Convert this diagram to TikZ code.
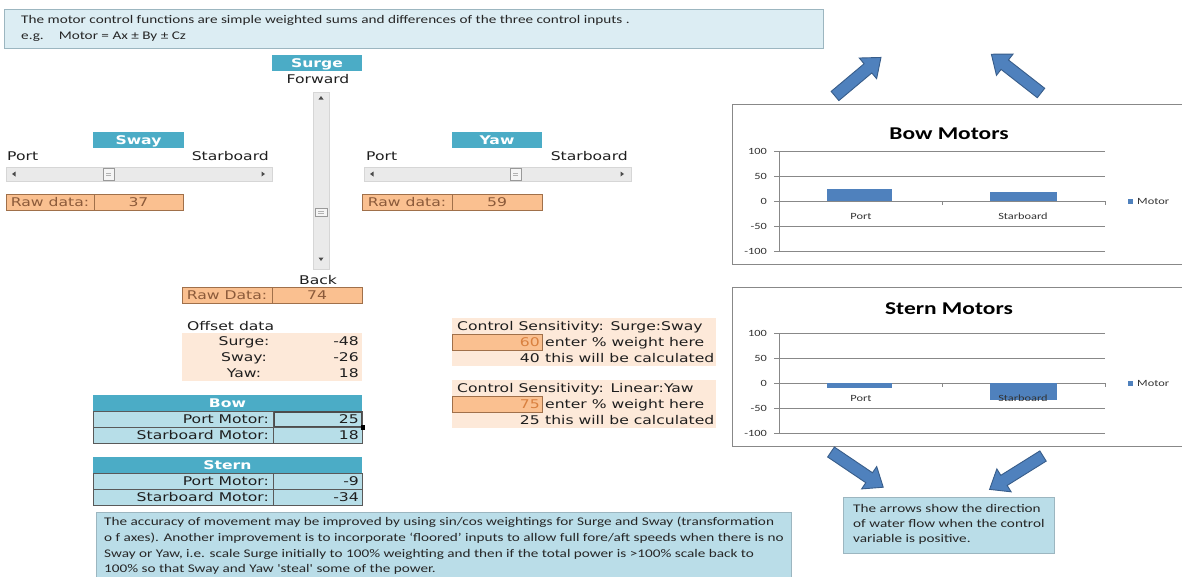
\documentclass[tikz,border=0pt]{standalone}
\usepackage{fontspec}
\setmainfont{DejaVu Sans}[FakeStretch=1.3]
\newfontfamily\calfont{Carlito}[FakeStretch=1.3]
\definecolor{hdrblue}{HTML}{4BACC6}
\definecolor{tblue}{HTML}{B7DEE8}
\definecolor{orangecell}{HTML}{FAC090}
\definecolor{peach}{HTML}{FDE9D9}
\definecolor{notetop}{HTML}{DCEDF3}
\definecolor{notebot}{HTML}{BADDE8}
\definecolor{noteedge}{HTML}{9CB6C0}
\definecolor{barblue}{HTML}{4F81BD}
\definecolor{baredge}{HTML}{385D8A}
\definecolor{gridgray}{HTML}{888888}
\definecolor{rawtext}{HTML}{8B5A3A}
\definecolor{inputtext}{HTML}{D9803F}
\definecolor{rawedge}{HTML}{A0704A}
\definecolor{sbfill}{HTML}{EAEAEA}
\definecolor{sbedge}{HTML}{D6D6D6}
\definecolor{celltext}{HTML}{1E1E1E}
\newcommand\blockarrow[3]{%
  \begin{scope}[shift={#1}, rotate=#2]
    \filldraw[barrowstyle] (0,-6) -- (#3-17,-6) -- (#3-17,-13.5) -- (#3,0) -- (#3-17,13.5) -- (#3-17,6) -- (0,6) -- cycle;
  \end{scope}}
\begin{document}
\begin{tikzpicture}[x=1pt,y=-1pt,
  xl/.style={font=\fontsize{12}{14}\selectfont, inner sep=0, text=celltext},
  hdrtxt/.style={font=\fontsize{12}{14}\selectfont\bfseries, inner sep=0, text=white},
  rawtxt/.style={xl, text=rawtext},
  notetxt/.style={font=\calfont\fontsize{11.7}{14}\selectfont, inner sep=0, anchor=base west, text=black!85},
  charttxt/.style={font=\calfont\fontsize{9.5}{11}\selectfont, inner sep=0, text=black!80},
  titletxt/.style={font=\calfont\fontsize{18}{21}\selectfont\bfseries, inner sep=0},
  hdrbox/.style={fill=hdrblue},
  rawbox/.style={fill=orangecell, draw=rawedge, line width=0.8},
  tcell/.style={fill=tblue, draw=black!65, line width=0.8},
  sbar/.style={fill=sbfill, draw=sbedge, line width=0.6},
  thumb/.style={fill=black!4, draw=black!40, line width=0.6},
  sbarrow/.style={fill=black!70},
  grid/.style={draw=gridgray, line width=0.8},
  barrowstyle/.style={fill=barblue, draw=baredge, line width=0.9},
  chartbox/.style={draw=gridgray, line width=0.9, fill=white},
  ]
\useasboundingbox (0,0) rectangle (1182,576);
\fill[white] (0,0) rectangle (1182,576);

% ---------- top note ----------
\filldraw[fill=notetop, draw=noteedge, line width=0.8] (4,9) rectangle (823,48);
\node[notetxt] (topnote1) at (21,23) {The motor control functions are simple weighted sums and differences of the three control inputs .};
\node[notetxt] (topnote2) at (21,39) {e.g.\hspace{15pt}Motor = Ax ± By ± Cz};

% ---------- Surge ----------
\fill[hdrbox] (272,55) rectangle (362,71);
\node[hdrtxt, anchor=base] (surgehdr) at (317,67.4) {Surge};
\node[xl, anchor=base] (forward) at (318,83.4) {Forward};
\filldraw[sbar] (313,92) rectangle (329,269);
\fill[sbarrow] (321,96) -- (318.5,99.5) -- (323.5,99.5) -- cycle;
\fill[sbarrow] (321,261) -- (318.5,257.5) -- (323.5,257.5) -- cycle;
\filldraw[thumb] (315,208) rectangle (327,216);
\draw[black!30, line width=0.5] (318,211) -- (324,211) (318,213) -- (324,213);
\node[xl, anchor=base] (back) at (318,284.4) {Back};
\filldraw[rawbox] (182,287) rectangle (362,303);
\draw[rawedge, line width=0.8] (272,287) -- (272,303);
\node[rawtxt, anchor=base] (surgeraw) at (227,299.4) {Raw Data:};
\node[rawtxt, anchor=base] (surgeval) at (317,299.4) {74};

% ---------- Sway ----------
\fill[hdrbox] (93,132) rectangle (184,148);
\node[hdrtxt, anchor=base] (swayhdr) at (138.5,144.4) {Sway};
\node[xl, anchor=base west] (swayport) at (7,160.4) {Port};
\node[xl, anchor=base east] (swaystar) at (269,160.4) {Starboard};
\filldraw[sbar] (6,167) rectangle (272,181);
\fill[sbarrow] (12,174) -- (15.5,171.5) -- (15.5,176.5) -- cycle;
\fill[sbarrow] (265,174) -- (261.5,171.5) -- (261.5,176.5) -- cycle;
\filldraw[thumb] (103,168.5) rectangle (114,180);
\draw[black!30, line width=0.5] (106,173) -- (111,173) (106,175.5) -- (111,175.5);
\filldraw[rawbox] (6,194) rectangle (183,210);
\draw[rawedge, line width=0.8] (94,194) -- (94,210);
\node[rawtxt, anchor=base] (swayraw) at (50,206.4) {Raw data:};
\node[rawtxt, anchor=base] (swayval) at (138.5,206.4) {37};

% ---------- Yaw ----------
\fill[hdrbox] (452,132) rectangle (542,148);
\node[hdrtxt, anchor=base] (yawhdr) at (497,144.4) {Yaw};
\node[xl, anchor=base west] (yawport) at (366,160.4) {Port};
\node[xl, anchor=base east] (yawstar) at (628,160.4) {Starboard};
\filldraw[sbar] (364,167) rectangle (631,181);
\fill[sbarrow] (370,174) -- (373.5,171.5) -- (373.5,176.5) -- cycle;
\fill[sbarrow] (624,174) -- (620.5,171.5) -- (620.5,176.5) -- cycle;
\filldraw[thumb] (510,168.5) rectangle (521,180);
\draw[black!30, line width=0.5] (513,173) -- (518,173) (513,175.5) -- (518,175.5);
\filldraw[rawbox] (362,194) rectangle (542,210);
\draw[rawedge, line width=0.8] (452,194) -- (452,210);
\node[rawtxt, anchor=base] (yawraw) at (407,206.4) {Raw data:};
\node[rawtxt, anchor=base] (yawval) at (497,206.4) {59};

% ---------- Offset data ----------
\node[xl, anchor=base west] (offlabel) at (187,330.4) {Offset data};
\fill[peach] (182,333) rectangle (362,381);
\node[xl, anchor=base] (offsurge) at (244,345.4) {Surge:};
\node[xl, anchor=base] (offsway) at (244,361.4) {Sway:};
\node[xl, anchor=base] (offyaw) at (244,377.4) {Yaw:};
\node[xl, anchor=base east] (offsurgev) at (359,345.4) {-48};
\node[xl, anchor=base east] (offswayv) at (359,361.4) {-26};
\node[xl, anchor=base east] (offyawv) at (359,377.4) {18};

% ---------- Bow table ----------
\fill[hdrbox] (93,395) rectangle (362,411);
\node[hdrtxt, anchor=base] (bowhdr) at (227.5,407.4) {Bow};
\filldraw[tcell] (93,411) rectangle (273,427);
\filldraw[tcell] (273,411) rectangle (362,427);
\filldraw[tcell] (93,427) rectangle (273,443);
\filldraw[tcell] (273,427) rectangle (362,443);
\draw[black!70, line width=1.8] (274.5,412) rectangle (361.5,426.5);
\fill[black] (360.5,425) rectangle (365,429.5);
\node[xl, anchor=base east] (bowpl) at (269,423.4) {Port Motor:};
\node[xl, anchor=base east] (bowpv) at (359,423.4) {25};
\node[xl, anchor=base east] (bowsl) at (269,439.4) {Starboard Motor:};
\node[xl, anchor=base east] (bowsv) at (359,439.4) {18};

% ---------- Stern table ----------
\fill[hdrbox] (93,457) rectangle (362,473);
\node[hdrtxt, anchor=base] (sternhdr) at (227.5,469.4) {Stern};
\filldraw[tcell] (93,473) rectangle (273,489);
\filldraw[tcell] (273,473) rectangle (362,489);
\filldraw[tcell] (93,489) rectangle (273,505);
\filldraw[tcell] (273,489) rectangle (362,505);
\node[xl, anchor=base east] (sternpl) at (269,485.4) {Port Motor:};
\node[xl, anchor=base east] (sternpv) at (359,485.4) {-9};
\node[xl, anchor=base east] (sternsl) at (269,501.4) {Starboard Motor:};
\node[xl, anchor=base east] (sternsv) at (359,501.4) {-34};

% ---------- Control sensitivity ----------
\fill[peach] (452,318) rectangle (716,366);
\filldraw[rawbox] (452,334) rectangle (542,350);
\node[xl, anchor=base west] (cs1) at (457,330.4) {Control Sensitivity: Surge:Sway};
\node[xl, anchor=base east, text=inputtext] (cs1v) at (540,346.4) {60};
\node[xl, anchor=base west] (cs1t) at (545,346.4) {enter \% weight here};
\node[xl, anchor=base east] (cs1c) at (540,362.4) {40};
\node[xl, anchor=base west] (cs1ct) at (545,362.4) {this will be calculated};

\fill[peach] (452,380) rectangle (716,428);
\filldraw[rawbox] (452,396) rectangle (542,412);
\node[xl, anchor=base west] (cs2) at (457,392.4) {Control Sensitivity: Linear:Yaw};
\node[xl, anchor=base east, text=inputtext] (cs2v) at (540,408.4) {75};
\node[xl, anchor=base west] (cs2t) at (545,408.4) {enter \% weight here};
\node[xl, anchor=base east] (cs2c) at (540,424.4) {25};
\node[xl, anchor=base west] (cs2ct) at (545,424.4) {this will be calculated};

% ---------- Bow Motors chart ----------
\filldraw[chartbox] (732,104) rectangle (1190,264);
\node[titletxt, anchor=base] (bowtitle) at (949,139) {Bow Motors};
\foreach \yy/\lab in {151/100,176/50,201/0,226/-50,251/-100}{
  \draw[grid] (774,\yy) -- (1105,\yy);
  \node[charttxt, anchor=base east] at (767,\yy+3) {\lab};
}
\draw[grid] (779,151) -- (779,251);
\draw[grid] (942,201) -- (942,205) (1105,201) -- (1105,205);
\fill[barblue] (827,188.5) rectangle (892,201);
\fill[barblue] (990,192) rectangle (1057,201);
\node[charttxt, anchor=base] (bowport) at (861,219) {Port};
\node[charttxt, anchor=base] (bowstar) at (1023,219) {Starboard};
\fill[barblue] (1128,198.5) rectangle (1133,203.5);
\node[charttxt, anchor=base west] (bowleg) at (1137,204) {Motor};

% ---------- Stern Motors chart ----------
\filldraw[chartbox] (732,287) rectangle (1190,446);
\node[titletxt, anchor=base] (sterntitle) at (949,314) {Stern Motors};
\foreach \yy/\lab in {333/100,358/50,383/0,408/-50,433/-100}{
  \draw[grid] (774,\yy) -- (1105,\yy);
  \node[charttxt, anchor=base east] at (767,\yy+3) {\lab};
}
\draw[grid] (779,333) -- (779,433);
\draw[grid] (942,383) -- (942,387) (1105,383) -- (1105,387);
\fill[barblue] (827,383) rectangle (892,387.5);
\fill[barblue] (990,383) rectangle (1057,400);
\node[charttxt, anchor=base] (sternport) at (861,401) {Port};
\node[charttxt, anchor=base] (sternstar) at (1023,401) {Starboard};
\fill[barblue] (1128,380.5) rectangle (1133,385.5);
\node[charttxt, anchor=base west] (sternleg) at (1137,386) {Motor};

% ---------- block arrows ----------
\blockarrow{(835,96)}{40}{60}
\blockarrow{(1041,93)}{142}{63}
\blockarrow{(831,452)}{-34}{63}
\blockarrow{(1043,456)}{212}{63}

% ---------- arrow note ----------
\filldraw[fill=notebot, draw=noteedge, line width=0.8] (843,497) rectangle (1054,553);
\node[notetxt] (an1) at (853,512) {The arrows show the direction};
\node[notetxt] (an2) at (853,527.5) {of water flow when the control};
\node[notetxt] (an3) at (853,542) {variable is positive.};

% ---------- bottom note ----------
\filldraw[fill=notebot, draw=noteedge, line width=0.8] (96,512) rectangle (791,590);
\node[notetxt] (bn1) at (104,525) {The accuracy of movement may be improved by using sin/cos weightings for Surge and Sway (transformation};
\node[notetxt] (bn2) at (104,541) {o f axes). Another improvement is to incorporate ‘floored’ inputs to allow full fore/aft speeds when there is no};
\node[notetxt] (bn3) at (104,557) {Sway or Yaw, i.e. scale Surge initially to 100\% weighting and then if the total power is >100\% scale back to};
\node[notetxt] (bn4) at (104,572) {100\% so that Sway and Yaw 'steal' some of the power.};
\end{tikzpicture}
\end{document}
